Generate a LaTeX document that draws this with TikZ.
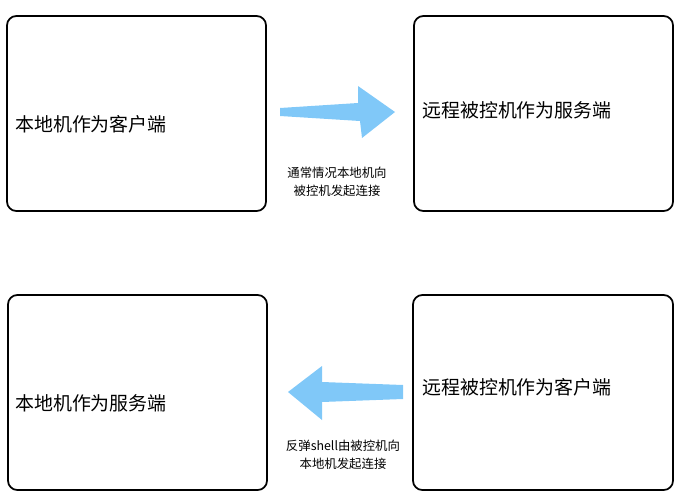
\documentclass[tikz,border=0pt]{standalone}
\usepackage{fontspec}
\newfontfamily\cjk{Noto Sans CJK SC}
\begin{document}
\begin{tikzpicture}[x=0.75pt,y=-0.75pt,
  box/.style={draw=black,line width=1.3pt,rounded corners=7pt},
  big/.style={font=\cjk\fontsize{14.2}{16}\selectfont,anchor=west,inner sep=0pt},
  small/.style={font=\cjk\fontsize{9.3}{13.5}\selectfont,align=center,inner sep=0pt}]
\useasboundingbox (0,0) rectangle (686,500);
\definecolor{ab}{HTML}{80C8F8}
\draw[box] (7,16) rectangle (266,211);
\draw[box] (414,16) rectangle (673,211);
\draw[box] (8,295) rectangle (267,490);
\draw[box] (413,295) rectangle (673,490);
\node[big] (a) at (15,124) {本地机作为客户端};
\node[big] (b) at (422,110) {远程被控机作为服务端};
\node[big] (c) at (15,403) {本地机作为服务端};
\node[big] (d) at (422,387) {远程被控机作为客户端};
\fill[ab] (280,108) -- (358,103) -- (358,86) -- (395,112) -- (362,138) -- (360,121) -- (280,116) -- cycle;
\fill[ab] (403,385) -- (322,382) -- (322,366) -- (288,392) -- (322,420) -- (322,402) -- (403,399) -- cycle;
\node[small] (l1) at (337,182) {通常情况本地机向\\被控机发起连接};
\node[small] (l2) at (343,455) {反弹shell由被控机向\\本地机发起连接};
\end{tikzpicture}
\end{document}
